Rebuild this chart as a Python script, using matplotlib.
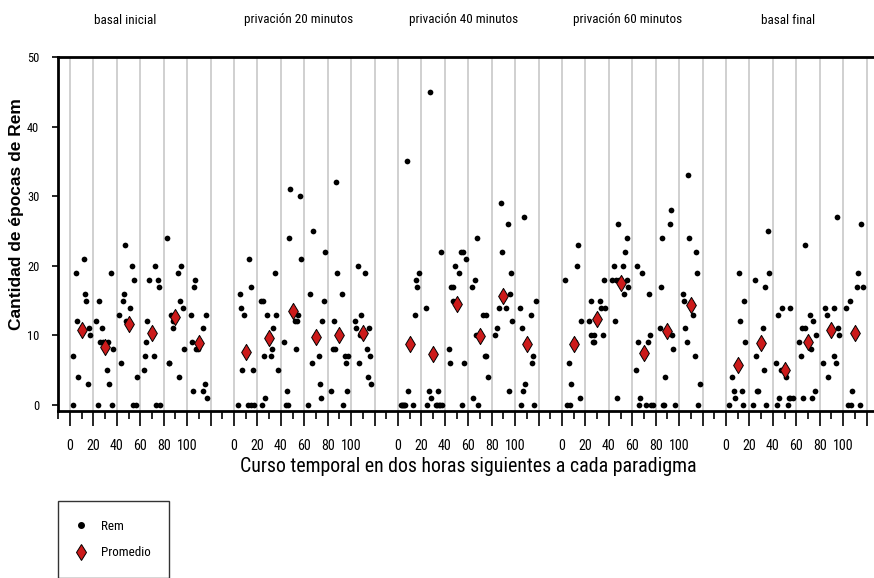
import numpy as np
import matplotlib
matplotlib.use("Agg")
import matplotlib.pyplot as plt
import matplotlib.transforms as mtransforms
from matplotlib.lines import Line2D
from matplotlib.ticker import FixedLocator
from matplotlib.font_manager import FontProperties, fontManager
import os

# ---------------------------------------------------------------- data
paradigmas = ["basal inicial", "privación 20 minutos", "privación 40 minutos",
              "privación 60 minutos", "basal final"]
tiempos = [10, 30, 50, 70, 90, 110]          # centre of each 20-min block

# Rem epochs per animal: time (min, spread within its block) and count
basal_inicial_t = [2.8, 2.3, 4.8, 5.7, 6.5, 11.7, 12.8, 13.7, 15.1, 15.9, 16.8,
                   22.2, 23.6, 24.5, 25.9, 27.3, 28.5, 31.6, 32.4, 33.6, 34.7, 35.6, 36.7,
                   41.8, 43.8, 45.0, 45.8, 46.7, 48.1, 51.5, 52.9, 54.9, 54.1, 56.1, 56.9,
                   62.9, 64.0, 64.9, 65.7, 67.2, 72.0, 72.9, 73.7, 76.8, 74.8, 76.3,
                   82.8, 84.2, 84.8, 86.5, 87.6, 88.2, 92.2, 92.8, 93.9, 95.0, 96.2, 97.0,
                   103.0, 103.9, 105.0, 105.6, 106.7, 107.9, 109.3, 113.3, 113.8, 115.0, 116.1, 117.2]
basal_inicial_rem = [0, 7, 19, 12, 4, 21, 16, 15, 3, 11, 10,
                     12, 0, 15, 9, 11, 9, 5, 9, 3, 19, 0, 8,
                     13, 6, 15, 16, 23, 12, 14, 20, 18, 0, 0, 4,
                     5, 7, 9, 12, 18, 7, 20, 0, 0, 18, 17,
                     24, 6, 6, 13, 12, 11, 19, 4, 15, 20, 14, 8,
                     13, 9, 2, 17, 18, 8, 8, 11, 2, 3, 13, 1]

priv20_t = [3.7, 5.1, 6.0, 8.3, 7.1, 12.0, 14.8, 16.8, 13.1, 14.2, 15.9,
            24.2, 23.3, 25.0, 25.9, 26.8, 28.2, 31.9, 32.7, 33.6, 35.0, 35.9, 37.3,
            43.0, 45.0, 44.4, 45.8, 47.2, 48.1, 52.4, 54.1, 54.9, 53.2, 56.3, 57.5,
            63.5, 64.9, 66.3, 67.4, 72.3, 73.4, 74.0, 75.4, 76.6, 77.4,
            83.1, 84.8, 86.5, 85.4, 87.1, 88.2, 92.2, 93.3, 94.5, 97.3, 95.3, 96.5,
            103.0, 104.2, 105.6, 106.4, 107.3, 108.1, 112.1, 113.3, 115.3, 114.7, 116.4, 117.2]
priv20_rem = [0, 16, 14, 13, 5, 0, 0, 0, 21, 17, 5,
              0, 15, 15, 7, 1, 13, 7, 8, 11, 19, 13, 5,
              9, 2, 0, 0, 24, 31, 12, 12, 13, 8, 30, 21,
              0, 16, 6, 25, 7, 3, 1, 12, 15, 22,
              2, 8, 8, 12, 32, 19, 16, 0, 7, 7, 6, 2,
              12, 11, 20, 6, 10, 13, 19, 8, 11, 4, 7, 3]

priv40_t = [2.6, 3.7, 4.3, 4.8, 6.0, 13.1, 7.7, 8.5, 14.2, 15.4, 16.2, 17.9,
            23.6, 24.8, 26.8, 27.6, 28.5, 32.2, 33.6, 34.7, 36.1, 37.3, 34.4, 36.4,
            43.3, 44.4, 45.2, 47.2, 46.7, 48.4, 52.4, 53.5, 55.5, 54.4, 56.6, 57.8,
            63.2, 64.3, 65.7, 67.4, 66.6, 68.6, 72.6, 75.4, 74.0, 74.8, 76.8,
            83.1, 84.5, 85.9, 87.6, 88.8, 92.5, 93.9, 94.8, 95.6, 96.8, 97.6,
            103.9, 104.7, 105.9, 106.4, 107.6, 108.7, 113.3, 114.1, 115.3, 116.4, 117.8]
priv40_rem = [0, 0, 0, 0, 0, 0, 35, 2, 13, 18, 17, 19,
              14, 0, 2, 45, 1, 0, 0, 0, 0, 0, 2, 22,
              8, 6, 17, 17, 15, 20, 19, 22, 22, 0, 6, 21,
              17, 1, 18, 24, 10, 0, 13, 13, 7, 7, 4,
              10, 11, 14, 29, 22, 14, 26, 2, 16, 19, 12,
              14, 0, 11, 2, 27, 3, 13, 6, 7, 0, 15]

priv60_t = [2.8, 4.6, 6.5, 6.0, 7.7, 11.1, 12.8, 13.7, 15.1, 16.5,
            22.8, 24.5, 25.0, 26.2, 27.6, 27.0, 32.7, 33.6, 37.0, 35.0, 36.1,
            44.1, 43.0, 45.8, 48.7, 45.2, 47.0, 47.8, 52.1, 52.9, 54.1, 55.2, 55.8, 56.6,
            63.2, 64.3, 65.2, 65.7, 66.9, 68.3, 71.7, 73.1, 74.3, 75.1, 76.0, 77.4,
            83.4, 84.2, 85.1, 86.5, 87.4, 88.2, 92.2, 93.3, 94.2, 95.0, 96.8,
            103.3, 103.9, 105.0, 106.4, 107.3, 108.4, 111.8, 113.3, 114.4, 115.3, 116.4, 117.5]
priv60_rem = [18, 0, 0, 6, 3, 9, 20, 23, 1, 12,
              12, 10, 15, 9, 9, 10, 15, 14, 14, 10, 18,
              20, 18, 18, 18, 12, 1, 26, 20, 16, 22, 24, 18, 17,
              5, 20, 9, 0, 1, 19, 0, 9, 16, 10, 0, 0,
              11, 17, 24, 0, 0, 4, 26, 28, 10, 8, 0,
              16, 15, 11, 9, 33, 24, 13, 7, 22, 19, 0, 3]

basal_final_t = [2.8, 5.1, 6.5, 7.4, 11.4, 12.2, 13.7, 14.5, 15.4, 16.5,
                 23.3, 24.5, 25.6, 26.2, 27.6, 31.3, 32.7, 33.6, 34.4, 35.6, 36.4,
                 42.7, 43.5, 44.7, 45.5, 46.7, 47.8, 51.2, 52.6, 53.5, 54.6, 56.9, 54.4,
                 62.6, 63.7, 64.9, 67.2, 66.0, 67.4, 71.7, 72.9, 73.7, 74.6, 75.7, 76.8,
                 83.1, 84.5, 85.9, 86.8, 91.9, 92.5, 93.6, 94.8, 95.6, 96.8,
                 102.4, 104.2, 106.4, 105.6, 107.6, 111.6, 112.7, 114.7, 115.5, 116.7]
basal_final_rem = [0, 4, 2, 1, 19, 12, 2, 0, 15, 9,
                   0, 18, 7, 2, 2, 11, 5, 17, 0, 25, 19,
                   6, 0, 13, 1, 5, 14, 4, 0, 1, 1, 1, 14,
                   9, 7, 11, 11, 1, 23, 13, 8, 1, 12, 2, 10,
                   6, 14, 13, 4, 14, 7, 6, 27, 11, 10,
                   14, 0, 0, 15, 2, 17, 19, 0, 26, 17]

# block means (Promedio)
promedio_basal_inicial = [10.8, 8.3, 11.7, 10.3, 12.7, 8.85]
promedio_priv20 = [7.65, 9.6, 13.5, 9.8, 10.0, 10.3]
promedio_priv40 = [8.75, 7.3, 14.45, 9.9, 15.6, 8.75]
promedio_priv60 = [8.75, 12.4, 17.6, 7.5, 10.7, 14.35]
promedio_basal_final = [5.75, 8.85, 5.0, 9.0, 10.8, 10.4]

tick_labels = ["0", "20", "40", "60", "80", "100", ""]
y_ticks = [0, 10, 20, 30, 40, 50]

series = [
    (basal_inicial_t, basal_inicial_rem, promedio_basal_inicial),
    (priv20_t, priv20_rem, promedio_priv20),
    (priv40_t, priv40_rem, promedio_priv40),
    (priv60_t, priv60_rem, promedio_priv60),
    (basal_final_t, basal_final_rem, promedio_basal_final),
]


# ---------------------------------------------------------------- fonts
def pick_condensed():
    """Regular-weight narrow/condensed sans face if one is installed."""
    prefs = ["liberationsansnarrow-regular", "arialnarrow", "robotocondensed-regular",
             "dejavusanscondensed.", "notosans-condensed.", "opensans-condensed",
             "opensans_condensed-regular", "lato-condensed"]
    files = {os.path.basename(f.fname).lower(): f.fname for f in fontManager.ttflist}
    for p in prefs:
        for name, path in files.items():
            if name.startswith(p):
                return path
    return None


cond_path = pick_condensed()
plt.rcParams["font.family"] = ["Liberation Sans", "DejaVu Sans"]


def cprop(size):
    if cond_path:
        return FontProperties(fname=cond_path, size=size)
    return FontProperties(family=["Liberation Sans", "DejaVu Sans"], size=size)


W, H = 874, 578
fig = plt.figure(figsize=(W / 100, H / 100), dpi=100)
renderer = fig.canvas.get_renderer()


def fit_width(s, target_w):
    """Font size at which s spans target_w pixels."""
    t = fig.text(0, 0, s, fontproperties=cprop(10.0))
    w = t.get_window_extent(renderer).width
    t.remove()
    return 10.0 * target_w / w


title_size = fit_width("privación 20 minutos", 107)
xlabel_size = fit_width("Curso temporal en dos horas siguientes a cada paradigma", 453)
xtick_size = fit_width("100", 20.5)
ytick_size = fit_width("40", 12)
legend_size = fit_width("Promedio", 49)

# ---------------------------------------------------------------- axes
ax = fig.add_axes([58 / W, (H - 411) / H, (W - 58) / W, (411 - 57) / H])

PANEL = 140          # width of one paradigm on the shared time axis
red = "#cc1a1a"

ax.set_xlim(-10.2, 686.3)
ax.set_ylim(-0.86, 50)

# light vertical guides every 20 minutes
for g in range(0, 5 * PANEL - 19, 20):
    ax.axvline(g, color="#c8c8c8", lw=1.2, zorder=0)

for k, (t, rem, prom) in enumerate(series):
    off = k * PANEL
    ax.scatter(np.asarray(t) + off, rem, s=17, color="black", zorder=3, linewidths=0)
    ax.scatter(np.asarray(tiempos) + off, prom, marker="d", s=68, color=red,
               edgecolors="black", linewidths=0.7, zorder=4)

# x ticks: long every 20 min, short in between
major = list(range(0, 5 * PANEL - 19, 20))
ax.xaxis.set_major_locator(FixedLocator(major))
ax.set_xticklabels([tick_labels[(g % PANEL) // 20] for g in major])
ax.xaxis.set_minor_locator(FixedLocator(list(range(-10, 5 * PANEL - 10, 20))))
ax.tick_params(axis="x", which="major", length=10.5, width=1.2, pad=10)
ax.tick_params(axis="x", which="minor", length=6, width=1.2)
for lab in ax.get_xticklabels():
    lab.set_fontproperties(cprop(xtick_size))

ax.set_yticks(y_ticks)
ax.set_yticklabels([str(v) for v in y_ticks])
ax.tick_params(axis="y", length=4.5, width=1.2, pad=9)
for lab in ax.get_yticklabels():
    lab.set_fontproperties(cprop(ytick_size))

for side in ("top", "left", "bottom"):
    ax.spines[side].set_linewidth(2)
    ax.spines[side].set_color("black")
ax.spines["right"].set_visible(False)

# paradigm names above each block
title_tr = mtransforms.blended_transform_factory(ax.transData, fig.transFigure)
title_x = [47.4, 55.5, 56.3, 56.3, 52.9]
for k, (name, tx) in enumerate(zip(paradigmas, title_x)):
    ax.text(k * PANEL + tx, 1 - 20 / H, name, transform=title_tr,
            ha="center", va="center", fontproperties=cprop(title_size))

fig.text(468 / W, 1 - 467 / H, "Curso temporal en dos horas siguientes a cada paradigma",
         ha="center", va="center", fontproperties=cprop(xlabel_size))
fig.text(17 / W, 1 - 214 / H, "Cantidad de épocas de Rem", rotation=90,
         ha="center", va="center", fontsize=12.5, fontweight="bold",
         family=["Liberation Sans", "DejaVu Sans"])

handles = [
    Line2D([], [], ls="none", marker="o", ms=4, color="black"),
    Line2D([], [], ls="none", marker="d", ms=8, markerfacecolor=red,
           markeredgecolor="black", markeredgewidth=0.7),
]
leg = fig.legend(handles, ["Rem", "Promedio"], loc="upper left",
                 bbox_to_anchor=(58 / W, 1 - 501 / H), frameon=True, fancybox=False,
                 edgecolor="black", prop=cprop(legend_size), borderpad=1.45,
                 handlelength=0.6, handletextpad=1.25, labelspacing=1.05,
                 borderaxespad=0)
leg.get_frame().set_linewidth(1.0)

fig.savefig("out.png", dpi=100)
